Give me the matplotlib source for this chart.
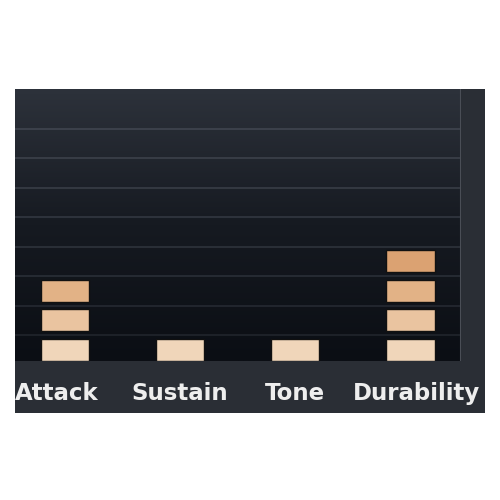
import numpy as np
import matplotlib.pyplot as plt
from matplotlib.patches import Rectangle
from matplotlib.colors import LinearSegmentedColormap

# --- data ---
categories = ['Attack', 'Sustain', 'Tone', 'Durability']
levels = [3, 1, 1, 4]
level_colors = ['#f0d6ba', '#eac4a0', '#e2b286', '#dba272']

fig = plt.figure(figsize=(5, 5), dpi=100)
fig.patch.set_facecolor('white')

# outer dark panel
panel = Rectangle((0.03, 0.174), 0.94, 0.648, transform=fig.transFigure,
                  facecolor='#2a2e35', edgecolor='none', zorder=-5)
fig.add_artist(panel)

ax = fig.add_axes([0.03, 0.278, 0.892, 0.544])
ax.set_zorder(2)

# vertical gradient background
grad = np.linspace(0, 1, 256).reshape(-1, 1)
cmap = LinearSegmentedColormap.from_list('bg', ['#0b0e14', '#161a21', '#2d323b'])
ax.imshow(grad, extent=[-0.435, 3.44, 0, 9.22], origin='lower', aspect='auto',
          cmap=cmap, zorder=0)

# faint grid lines between block slots
for k in range(8):
    ax.axhline(k + 0.875, color='#4a505a', lw=1.1, alpha=0.35 + 0.06 * k, zorder=1)

x = np.arange(len(categories))
bar_w = 0.42
for i, n in enumerate(levels):
    for k in range(n):
        ax.bar(x[i], 0.75, bottom=k, width=bar_w, color=level_colors[k],
               edgecolor='#111111', linewidth=1.0, align='center', zorder=3)

ax.set_xlim(-0.435, 3.44)
ax.set_ylim(0, 9.22)
ax.set_xticks([])
ax.set_yticks([])
for s in ax.spines.values():
    s.set_visible(False)
ax.axvline(3.44, color='#4a4e56', lw=1.5, solid_capstyle='butt', zorder=4)

label_shift = [-0.07, 0.0, 0.0, 0.05]
for i, c in enumerate(categories):
    ax.text(x[i] + label_shift[i], -32 / 29.5, c, ha='center', va='center',
            color='#eeeeee', fontsize=16.5, fontweight='bold',
            family='DejaVu Sans', clip_on=False)

fig.savefig('out.png', dpi=100)
